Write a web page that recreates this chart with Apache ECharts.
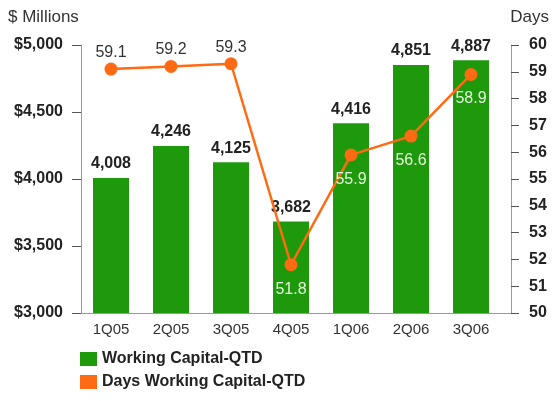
<!DOCTYPE html>
<html>
<head>
<meta charset="utf-8">
<script src="https://cdn.jsdelivr.net/npm/echarts@6/dist/echarts.min.js"></script>
<style>
  html, body { margin: 0; padding: 0; background: #fff; }
  #chart { width: 554px; height: 401px; }
</style>
</head>
<body>
<div id="chart"></div>
<script>
// Quarterly working capital ($ millions) and days working capital
const categories = ['1Q05', '2Q05', '3Q05', '4Q05', '1Q06', '2Q06', '3Q06'];
const workingCapital = [4008, 4246, 4125, 3682, 4416, 4851, 4887];
const daysWorkingCapital = [59.1, 59.2, 59.3, 51.8, 55.9, 56.6, 58.9];
// true where the days label sits below its point (inside the bar)
const daysLabelBelow = [false, false, false, true, true, true, true];
const leftTicks = { min: 3000, max: 5000, interval: 500 };
const rightTicks = { min: 50, max: 60, interval: 1 };

const GREEN = '#1f990c';
const ORANGE = '#ff6a12';
const AXIS = '#9a9a9a';
const FONT = 'Liberation Sans, Arial, sans-serif';

const chart = echarts.init(document.getElementById('chart'), null, { renderer: 'canvas' });

const daysData = daysWorkingCapital.map((v, i) => ({
  value: v,
  label: daysLabelBelow[i]
    ? { position: 'bottom', distance: 10, color: '#e6f5de' }
    : { position: 'top', distance: 2, color: '#333' }
}));

chart.setOption({
  animation: false,
  textStyle: { fontFamily: FONT },
  title: [
    { text: '$ Millions', left: 3, top: 4,
      textStyle: { fontSize: 17, fontWeight: 'normal', color: '#333', fontFamily: FONT } },
    { text: 'Days', right: 0, top: 4,
      textStyle: { fontSize: 17, fontWeight: 'normal', color: '#333', fontFamily: FONT } }
  ],
  legend: {
    orient: 'vertical',
    left: 75,
    top: 346,
    itemWidth: 17,
    itemHeight: 14,
    itemGap: 7,
    icon: 'rect',
    textStyle: { fontSize: 16, fontWeight: 'bold', color: '#222', fontFamily: FONT },
    data: ['Working Capital-QTD', 'Days Working Capital-QTD']
  },
  grid: [
    { left: 81, right: 53, top: 45, bottom: 88 },
    { left: 81, right: 43, top: 45, bottom: 88 }
  ],
  xAxis: [
    {
      type: 'category', gridIndex: 0, data: categories,
      axisLine: { show: false }, axisTick: { show: false },
      axisLabel: { fontSize: 15, color: '#333', margin: 9, fontFamily: FONT }
    },
    {
      // baseline running under the full plot up to the right-hand axis
      type: 'value', gridIndex: 1, min: 0, max: 1,
      axisLine: { show: true, lineStyle: { color: AXIS, width: 1 } },
      axisTick: { show: false }, axisLabel: { show: false }, splitLine: { show: false }
    }
  ],
  yAxis: [
    {
      type: 'value', gridIndex: 0, position: 'left',
      min: leftTicks.min, max: leftTicks.max, interval: leftTicks.interval,
      axisLine: { show: true, lineStyle: { color: AXIS } },
      axisTick: { show: true, length: 9, lineStyle: { color: '#555' } },
      splitLine: { show: false },
      axisLabel: {
        margin: 18, fontSize: 16, fontWeight: 'bold', color: '#222', fontFamily: FONT,
        formatter: v => '$' + v.toLocaleString('en-US')
      }
    },
    {
      type: 'value', gridIndex: 0, position: 'right', offset: 10,
      min: rightTicks.min, max: rightTicks.max, interval: rightTicks.interval,
      axisLine: { show: true, lineStyle: { color: AXIS } },
      axisTick: { show: true, length: 8, lineStyle: { color: '#555' } },
      splitLine: { show: false },
      axisLabel: { margin: 18, fontSize: 16, fontWeight: 'bold', color: '#222', fontFamily: FONT }
    },
    { type: 'value', gridIndex: 1, show: false, min: 0, max: 1 }
  ],
  series: [
    {
      name: 'Working Capital-QTD',
      type: 'bar',
      xAxisIndex: 0, yAxisIndex: 0,
      barWidth: 36,
      data: workingCapital,
      itemStyle: { color: GREEN },
      label: {
        show: true, position: 'top', distance: 6,
        fontSize: 16, fontWeight: 'bold', color: '#222', fontFamily: FONT,
        formatter: p => p.value.toLocaleString('en-US')
      }
    },
    {
      name: 'Days Working Capital-QTD',
      type: 'line',
      xAxisIndex: 0, yAxisIndex: 1,
      data: daysData,
      symbol: 'circle',
      symbolSize: 13,
      lineStyle: { color: ORANGE, width: 2.5 },
      itemStyle: { color: ORANGE },
      label: { show: true, fontSize: 16, fontFamily: FONT, formatter: p => p.value.toFixed(1) }
    }
  ]
});
</script>
</body>
</html>
